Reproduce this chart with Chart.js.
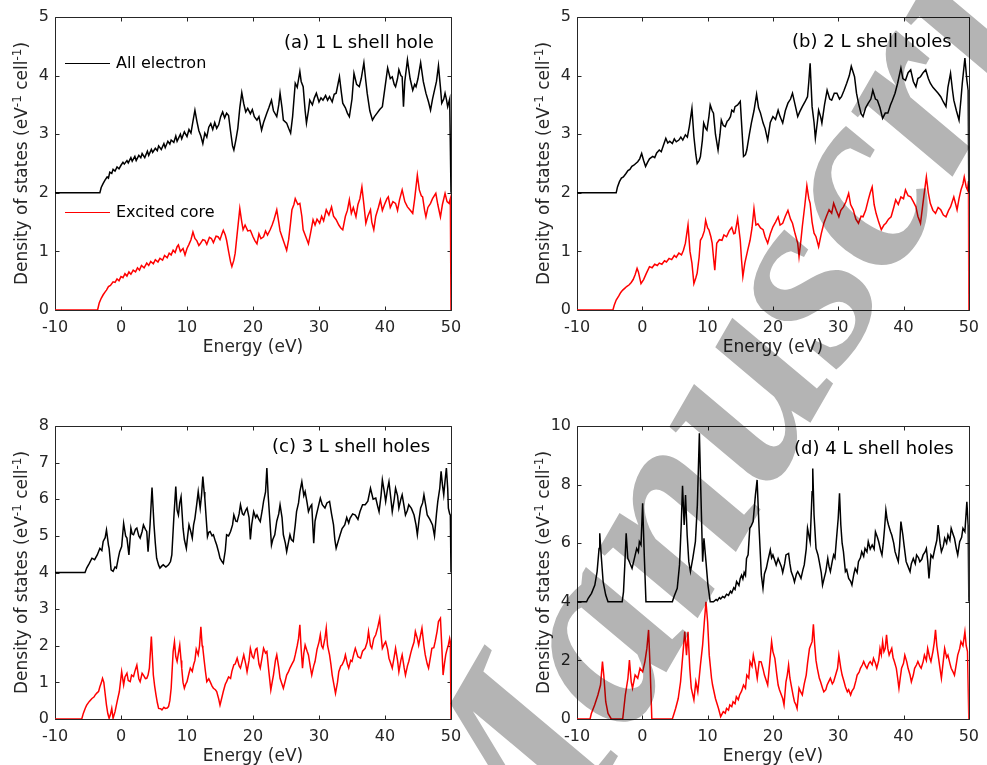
<!DOCTYPE html>
<html>
<head>
<meta charset="utf-8">
<script src="https://cdn.jsdelivr.net/npm/chart.js@4.4.1/dist/chart.umd.min.js"></script>
<style>
  html, body { margin: 0; padding: 0; background: #ffffff; }
  #fig { position: relative; width: 987px; height: 765px; overflow: hidden; background: #ffffff; }
  #fig canvas { position: absolute; }
  #wm { position: absolute; left: 0; top: 0; mix-blend-mode: multiply; pointer-events: none; }
</style>
</head>
<body>
<div id="fig">
  <canvas id="pa" width="490" height="380" style="left:0;top:0"></canvas>
  <canvas id="pb" width="497" height="380" style="left:490px;top:0"></canvas>
  <canvas id="pc" width="490" height="375" style="left:0;top:390px"></canvas>
  <canvas id="pd" width="497" height="375" style="left:490px;top:390px"></canvas>
  <svg id="wm" width="987" height="765">
    <text x="513" y="938" transform="rotate(-60 513 938)" font-family="Liberation Serif" font-style="italic" font-weight="bold" font-size="262" fill="#b4b4b4">Manuscript</text>
  </svg>
</div>
<script>
// Energy axis (eV) and tick values
const energyTicks = [-10, 0, 10, 20, 30, 40, 50];
const seriesNames = ['All electron', 'Excited core'];
const panelTitles = ['(a) 1 L shell hole', '(b) 2 L shell holes', '(c) 3 L shell holes', '(d) 4 L shell holes'];
const xTitle = 'Energy (eV)';

// Density of states, [energy, DOS] pairs. "All" curves carry their vertical offset.
const dosA_all = [[-10,2],[-3.2,2],[-3.0,2.09],[-2.7,2.16],[-2.4,2.22],[-2.1,2.27],[-1.9,2.25],[-1.7,2.35],[-1.4,2.33],[-1.2,2.4],[-0.9,2.37],[-0.6,2.44],[-0.3,2.41],[0,2.47],[0.3,2.52],[0.5,2.49],[0.9,2.55],[1.1,2.51],[1.5,2.6],[1.7,2.54],[2.1,2.62],[2.3,2.55],[2.7,2.64],[3.0,2.6],[3.2,2.67],[3.6,2.6],[4.0,2.71],[4.2,2.64],[4.6,2.74],[4.8,2.69],[5.2,2.76],[5.5,2.72],[5.7,2.8],[6.1,2.74],[6.5,2.84],[6.7,2.77],[7.1,2.88],[7.4,2.83],[7.6,2.9],[8.0,2.86],[8.3,2.97],[8.5,2.88],[9.0,3.0],[9.2,2.92],[9.6,3.04],[10,2.96],[10.3,3.08],[10.6,3.02],[10.9,3.22],[11.2,3.41],[11.5,3.22],[11.8,3.06],[12.1,2.97],[12.4,2.84],[12.7,3.02],[13.0,2.95],[13.3,3.12],[13.6,3.18],[13.9,3.08],[14.2,3.2],[14.5,3.1],[14.8,3.16],[15.1,3.3],[15.4,3.38],[15.7,3.28],[16.0,3.36],[16.3,3.32],[16.6,3.05],[16.9,2.8],[17.1,2.73],[17.4,2.9],[17.7,3.1],[18.0,3.45],[18.3,3.71],[18.6,3.52],[18.9,3.38],[19.2,3.44],[19.6,3.35],[19.9,3.42],[20.2,3.3],[20.6,3.24],[20.9,3.3],[21.3,3.07],[21.6,3.2],[22.1,3.36],[22.4,3.45],[22.8,3.58],[23.1,3.4],[23.6,3.3],[23.9,3.5],[24.1,3.7],[24.4,3.45],[24.6,3.24],[25.1,3.19],[25.4,3.1],[25.7,3.02],[26.0,3.3],[26.4,3.87],[26.7,3.8],[27.1,4.07],[27.3,3.9],[27.6,3.81],[27.9,3.4],[28.1,3.19],[28.4,3.4],[28.6,3.58],[29.0,3.5],[29.3,3.62],[29.6,3.7],[30.0,3.55],[30.3,3.62],[30.6,3.58],[31.0,3.66],[31.3,3.58],[31.6,3.64],[32.0,3.55],[32.3,3.68],[32.6,3.7],[33.1,3.98],[33.4,3.7],[33.6,3.53],[34.0,3.45],[34.3,3.36],[34.6,3.3],[35.0,3.6],[35.3,4.04],[35.7,3.85],[36.1,3.81],[36.4,3.95],[36.8,4.22],[37.1,3.9],[37.3,3.7],[37.7,3.4],[38.1,3.24],[38.4,3.3],[38.8,3.36],[39.2,3.42],[39.6,3.47],[40.0,3.8],[40.4,4.13],[40.8,3.95],[41.1,3.98],[41.4,3.85],[41.6,3.81],[41.9,3.95],[42.1,4.1],[42.4,4.0],[42.6,3.98],[42.8,3.47],[43.0,3.9],[43.4,4.27],[43.8,3.95],[44.2,3.75],[44.5,3.85],[44.7,3.81],[45.0,3.95],[45.4,4.22],[45.8,3.9],[46.2,3.7],[46.6,3.55],[46.9,3.41],[47.2,3.6],[47.4,3.7],[47.8,3.9],[48.1,4.17],[48.4,3.8],[48.6,3.53],[48.9,3.6],[49.1,3.7],[49.3,3.6],[49.5,3.47],[49.8,3.6],[50,2]];
const dosA_core = [[-10,0],[-3.55,0],[-3.3,0.12],[-3.0,0.2],[-2.7,0.26],[-2.4,0.31],[-2.2,0.34],[-1.9,0.4],[-1.6,0.42],[-1.2,0.48],[-0.9,0.47],[-0.6,0.53],[-0.3,0.5],[0,0.57],[0.3,0.55],[0.6,0.62],[0.9,0.58],[1.2,0.65],[1.5,0.61],[1.85,0.68],[2.2,0.65],[2.5,0.72],[2.8,0.68],[3.1,0.76],[3.5,0.72],[3.9,0.8],[4.2,0.76],[4.5,0.83],[4.9,0.79],[5.2,0.86],[5.6,0.82],[5.9,0.88],[6.3,0.85],[6.6,0.93],[7.0,0.89],[7.3,0.97],[7.6,0.94],[7.9,1.02],[8.2,0.98],[8.5,1.08],[8.7,1.11],[9.0,1.0],[9.4,1.05],[9.7,0.94],[10.0,1.05],[10.3,1.12],[10.6,1.2],[10.9,1.33],[11.2,1.22],[11.5,1.18],[11.8,1.1],[12.0,1.13],[12.4,1.2],[12.7,1.19],[13.0,1.12],[13.4,1.24],[13.7,1.22],[14.0,1.15],[14.4,1.26],[14.7,1.25],[15.0,1.2],[15.3,1.3],[15.5,1.36],[15.8,1.28],[16.0,1.19],[16.3,1.0],[16.6,0.82],[16.8,0.74],[17.1,0.85],[17.3,0.97],[17.6,1.3],[18.0,1.73],[18.3,1.5],[18.5,1.37],[18.8,1.45],[19.2,1.35],[19.6,1.36],[20.0,1.25],[20.3,1.18],[20.6,1.13],[20.9,1.3],[21.2,1.22],[21.6,1.25],[21.9,1.35],[22.2,1.28],[22.6,1.37],[22.9,1.45],[23.2,1.55],[23.6,1.71],[23.9,1.5],[24.1,1.35],[24.4,1.25],[24.7,1.15],[25.1,1.02],[25.4,1.2],[25.7,1.5],[25.9,1.71],[26.2,1.8],[26.4,1.9],[26.8,1.8],[27.1,1.82],[27.4,1.6],[27.6,1.37],[28.0,1.25],[28.4,1.13],[28.7,1.3],[29.1,1.54],[29.4,1.45],[29.7,1.55],[30.1,1.48],[30.4,1.6],[30.7,1.52],[31.1,1.71],[31.5,1.62],[31.9,1.76],[32.2,1.6],[32.6,1.54],[33.0,1.45],[33.3,1.4],[33.6,1.37],[34.0,1.6],[34.3,1.7],[34.6,1.88],[34.9,1.65],[35.2,1.75],[35.6,1.59],[35.9,1.8],[36.2,1.9],[36.5,2.1],[36.8,1.8],[37.1,1.48],[37.4,1.6],[37.8,1.71],[38.0,1.5],[38.3,1.37],[38.6,1.6],[39.0,1.75],[39.3,1.88],[39.6,1.7],[40.0,1.82],[40.3,1.9],[40.5,1.93],[40.8,1.75],[41.2,1.85],[41.6,1.82],[41.9,1.7],[42.2,1.88],[42.6,2.05],[43.0,1.85],[43.4,1.76],[43.7,1.72],[44.2,1.65],[44.5,1.9],[44.9,2.3],[45.2,2.05],[45.5,1.95],[45.7,1.93],[46.0,1.7],[46.2,1.59],[46.5,1.75],[46.9,1.82],[47.2,1.9],[47.7,1.99],[48.0,1.8],[48.4,1.59],[48.7,1.8],[49.1,1.99],[49.4,1.85],[49.7,1.82],[49.9,1.9],[50,0]];

const dosB_all = [[-10,2],[-4.0,2],[-3.8,2.1],[-3.5,2.19],[-3.2,2.25],[-2.9,2.27],[-2.5,2.33],[-2.2,2.38],[-1.9,2.4],[-1.6,2.45],[-1.3,2.47],[-1.0,2.5],[-0.7,2.53],[-0.4,2.58],[-0.1,2.67],[0.2,2.55],[0.5,2.45],[0.8,2.52],[1.1,2.58],[1.6,2.62],[1.9,2.6],[2.2,2.68],[2.6,2.73],[2.9,2.7],[3.2,2.8],[3.6,2.93],[3.9,2.85],[4.2,2.88],[4.6,2.84],[4.9,2.92],[5.2,2.87],[5.6,2.9],[5.9,2.95],[6.2,2.9],[6.6,2.99],[6.9,2.95],[7.2,3.13],[7.6,3.44],[7.9,2.96],[8.2,2.65],[8.4,2.5],[8.7,2.55],[8.9,2.62],[9.2,2.9],[9.4,3.19],[9.7,3.1],[9.9,3.07],[10.2,3.3],[10.4,3.5],[10.7,3.4],[10.9,3.36],[11.2,3.0],[11.6,2.73],[11.9,3.0],[12.1,3.24],[12.4,3.15],[12.7,3.13],[13.0,3.22],[13.2,3.24],[13.5,3.3],[13.7,3.41],[14.0,3.38],[14.2,3.47],[14.6,3.5],[15.0,3.56],[15.3,3.0],[15.5,2.62],[15.8,2.65],[16.0,2.73],[16.4,3.0],[16.7,3.19],[17.1,3.4],[17.5,3.68],[17.8,3.45],[18.1,3.36],[18.5,3.19],[18.8,3.1],[19.2,2.9],[19.6,3.2],[20.0,3.3],[20.4,3.25],[20.8,3.41],[21.1,3.3],[21.5,3.19],[21.9,3.4],[22.3,3.53],[22.7,3.6],[23.0,3.7],[23.4,3.5],[23.8,3.3],[24.1,3.38],[24.5,3.47],[24.9,3.55],[25.3,3.64],[25.5,3.9],[25.7,4.21],[26.0,3.47],[26.3,3.2],[26.5,2.93],[26.8,3.2],[27.0,3.41],[27.3,3.3],[27.5,3.19],[27.9,3.5],[28.3,3.75],[28.7,3.6],[29.0,3.58],[29.4,3.7],[29.8,3.7],[30.2,3.6],[30.5,3.64],[30.9,3.75],[31.3,3.87],[31.7,4.0],[32.0,4.16],[32.5,3.98],[32.8,3.7],[33.1,3.53],[33.5,3.35],[33.8,3.3],[34.2,3.45],[34.6,3.53],[35.0,3.6],[35.3,3.75],[35.7,3.6],[36.0,3.58],[36.4,3.45],[36.8,3.27],[37.2,3.36],[37.6,3.36],[38.0,3.5],[38.3,3.58],[38.7,3.7],[39.1,3.87],[39.6,4.13],[39.9,3.95],[40.3,3.92],[40.7,4.05],[41.1,4.1],[41.5,3.9],[41.9,3.81],[42.2,3.95],[42.6,3.98],[43.0,4.05],[43.4,4.1],[43.8,3.95],[44.1,3.87],[44.5,3.8],[44.9,3.75],[45.3,3.7],[45.7,3.64],[46.1,3.55],[46.5,3.47],[46.8,3.8],[47.2,4.04],[47.5,3.75],[47.7,3.58],[48.1,3.4],[48.5,3.24],[48.8,3.6],[49.0,3.87],[49.4,4.3],[49.7,3.92],[49.9,3.75],[50,2]];
const dosB_core = [[-10,0],[-4.5,0],[-4.3,0.08],[-4.0,0.17],[-3.6,0.24],[-3.3,0.3],[-3.0,0.34],[-2.7,0.37],[-2.4,0.4],[-2.0,0.43],[-1.7,0.47],[-1.4,0.52],[-1.1,0.6],[-0.8,0.71],[-0.6,0.65],[-0.2,0.45],[0.2,0.52],[0.6,0.62],[1.1,0.74],[1.5,0.72],[1.9,0.78],[2.3,0.76],[2.6,0.8],[3.0,0.78],[3.4,0.84],[3.7,0.82],[4.1,0.88],[4.5,0.86],[4.9,0.93],[5.2,0.9],[5.6,0.97],[6.0,0.94],[6.3,1.02],[6.6,1.14],[7.0,1.45],[7.3,1.0],[7.6,0.8],[7.9,0.45],[8.2,0.55],[8.4,0.63],[8.7,0.9],[8.9,1.19],[9.2,1.25],[9.5,1.35],[9.7,1.53],[10.0,1.4],[10.2,1.37],[10.5,1.25],[10.7,1.14],[10.9,0.9],[11.1,0.68],[11.4,1.14],[11.8,1.2],[12.2,1.19],[12.5,1.28],[12.9,1.25],[13.3,1.35],[13.7,1.41],[14.0,1.3],[14.2,1.31],[14.6,1.56],[15.0,1.19],[15.2,0.85],[15.4,0.57],[15.7,0.8],[16.1,1.0],[16.5,1.19],[16.8,1.4],[17.1,1.73],[17.4,1.45],[17.7,1.47],[18.1,1.4],[18.5,1.37],[18.8,1.25],[19.2,1.14],[19.6,1.3],[20.0,1.42],[20.4,1.5],[20.8,1.59],[21.1,1.45],[21.5,1.48],[21.9,1.6],[22.3,1.7],[22.7,1.55],[23.0,1.48],[23.4,1.3],[23.8,1.14],[24.0,0.91],[24.3,1.2],[24.5,1.42],[24.9,1.8],[25.2,2.12],[25.5,1.9],[25.7,1.82],[26.0,1.5],[26.3,1.31],[26.6,1.25],[27.0,1.08],[27.4,1.3],[27.8,1.48],[28.2,1.6],[28.6,1.71],[29.0,1.65],[29.3,1.82],[29.7,1.7],[30.1,1.59],[30.4,1.7],[30.8,1.76],[31.2,1.85],[31.6,1.99],[31.9,1.8],[32.3,1.71],[32.7,1.55],[33.1,1.48],[33.5,1.6],[33.8,1.59],[34.2,1.7],[34.6,1.88],[34.9,2.0],[35.2,2.1],[35.5,1.8],[35.8,1.65],[36.2,1.5],[36.6,1.37],[37.0,1.45],[37.3,1.48],[37.7,1.55],[38.1,1.59],[38.5,1.75],[38.8,1.88],[39.2,1.8],[39.6,1.93],[40.0,1.9],[40.3,2.05],[40.7,1.95],[41.1,1.93],[41.5,1.85],[41.9,1.76],[42.2,1.6],[42.6,1.48],[43.1,1.93],[43.5,2.27],[43.8,2.0],[44.1,1.82],[44.5,1.7],[44.9,1.65],[45.3,1.75],[45.7,1.71],[46.1,1.62],[46.5,1.59],[46.9,1.7],[47.2,1.76],[47.7,1.93],[48.0,1.8],[48.2,1.71],[48.5,1.9],[48.8,2.05],[49.1,2.15],[49.3,2.27],[49.6,2.1],[49.8,2.05],[49.95,2.2],[50,0]];

const dosC_all = [[-10,4],[-5.45,4],[-5.2,4.12],[-4.8,4.25],[-4.4,4.39],[-4.0,4.35],[-3.6,4.48],[-3.2,4.66],[-2.9,4.6],[-2.7,4.85],[-2.4,4.95],[-2.2,5.16],[-1.9,4.75],[-1.8,4.66],[-1.5,4.07],[-1.2,4.03],[-0.9,4.15],[-0.7,4.12],[-0.4,4.4],[-0.2,4.57],[0.1,4.71],[0.4,5.34],[0.7,5.0],[0.9,4.94],[1.2,4.48],[1.5,5.21],[1.7,5.05],[1.9,5.03],[2.2,5.18],[2.4,5.21],[2.7,5.0],[2.9,4.94],[3.2,5.12],[3.4,5.3],[3.7,5.18],[3.9,5.12],[4.1,4.57],[4.4,5.3],[4.7,6.32],[5.0,5.3],[5.2,4.8],[5.4,4.39],[5.7,4.2],[5.9,4.12],[6.2,4.18],[6.4,4.21],[6.8,4.15],[7.2,4.21],[7.5,4.3],[7.7,4.48],[8.0,5.48],[8.3,6.35],[8.5,5.7],[8.7,5.57],[8.9,5.9],[9.1,6.07],[9.4,5.21],[9.6,4.9],[9.9,4.66],[10.1,5.0],[10.3,5.3],[10.6,5.1],[10.8,4.94],[11.0,5.3],[11.2,5.48],[11.5,5.9],[11.7,6.21],[12.0,5.76],[12.2,6.1],[12.4,6.62],[12.6,6.2],[12.7,6.03],[12.9,5.5],[13.1,4.98],[13.3,5.1],[13.5,5.12],[13.8,5.0],[14.0,5.03],[14.3,4.85],[14.5,4.75],[14.8,4.55],[15.0,4.39],[15.3,4.3],[15.5,4.25],[15.8,4.6],[16.0,5.03],[16.3,5.0],[16.6,5.12],[16.9,5.3],[17.1,5.57],[17.4,5.4],[17.6,5.39],[17.9,5.6],[18.1,5.85],[18.4,5.6],[18.6,5.57],[18.9,5.7],[19.1,5.76],[19.4,5.5],[19.6,4.9],[19.8,5.3],[20.1,5.66],[20.4,5.5],[20.6,5.57],[20.9,5.45],[21.1,5.39],[21.4,5.7],[21.6,5.94],[21.9,6.2],[22.1,6.85],[22.3,6.1],[22.5,5.57],[22.8,4.75],[23.0,4.9],[23.3,5.03],[23.6,5.4],[23.9,5.6],[24.1,5.85],[24.4,5.5],[24.6,5.03],[24.9,4.8],[25.1,4.57],[25.4,4.85],[25.6,5.03],[25.8,4.9],[26.1,4.85],[26.4,5.3],[26.6,5.66],[26.9,5.9],[27.1,6.2],[27.4,6.48],[27.7,6.1],[27.9,6.21],[28.2,5.9],[28.4,5.66],[28.7,5.8],[28.9,5.85],[29.2,4.8],[29.4,5.4],[29.6,5.57],[29.9,5.8],[30.2,6.03],[30.5,5.85],[30.9,5.76],[31.2,5.9],[31.6,5.94],[31.9,5.6],[32.2,5.3],[32.4,4.9],[32.6,4.66],[32.9,4.85],[33.2,5.03],[33.5,5.2],[33.9,5.3],[34.2,5.5],[34.5,5.35],[34.7,5.48],[35.1,5.6],[35.5,5.57],[35.9,5.45],[36.2,5.66],[36.6,5.85],[37.0,5.85],[37.4,5.95],[37.8,6.3],[38.2,6.0],[38.6,6.03],[38.9,5.8],[39.1,5.66],[39.4,6.1],[39.6,6.53],[39.9,6.2],[40.1,5.94],[40.4,6.3],[40.6,6.48],[40.9,6.0],[41.1,5.66],[41.4,6.0],[41.6,6.3],[41.9,6.1],[42.1,5.76],[42.4,6.0],[42.6,6.12],[42.9,5.8],[43.1,5.57],[43.4,5.7],[43.6,5.85],[44.0,5.75],[44.4,5.57],[44.7,5.3],[44.9,5.03],[45.2,5.5],[45.4,5.76],[45.7,5.9],[45.9,6.12],[46.2,5.8],[46.4,5.57],[46.8,5.45],[47.2,5.3],[47.5,5.0],[47.8,5.6],[48.0,5.94],[48.3,6.3],[48.5,6.76],[48.7,6.4],[48.9,6.12],[49.1,6.5],[49.3,6.85],[49.5,6.3],[49.6,5.76],[49.8,5.6],[49.9,5.57],[50,4]];
const dosC_core = [[-10,0],[-5.95,0],[-5.7,0.16],[-5.4,0.3],[-5.2,0.38],[-4.8,0.48],[-4.4,0.56],[-4.1,0.6],[-3.9,0.66],[-3.6,0.72],[-3.4,0.75],[-3.2,0.88],[-3.0,0.98],[-2.8,1.11],[-2.6,1.0],[-2.5,0.84],[-2.2,0.38],[-2.0,0.15],[-1.8,0.02],[-1.6,0.12],[-1.4,0.29],[-1.2,0.02],[-0.9,0.2],[-0.7,0.38],[-0.5,0.55],[-0.25,0.75],[0.1,1.29],[0.4,0.93],[0.6,1.15],[0.9,1.25],[1.1,1.05],[1.4,1.02],[1.6,1.2],[1.9,1.16],[2.1,1.3],[2.4,1.47],[2.7,1.1],[2.9,1.02],[3.2,1.25],[3.4,1.2],[3.7,1.1],[3.9,1.11],[4.1,1.2],[4.3,1.39],[4.6,2.25],[4.9,1.2],[5.1,0.9],[5.3,0.66],[5.5,0.45],[5.7,0.29],[6.0,0.28],[6.2,0.25],[6.5,0.32],[6.7,0.29],[7.0,0.3],[7.2,0.34],[7.4,0.5],[7.6,0.84],[7.9,1.84],[8.1,2.11],[8.3,1.7],[8.5,1.57],[8.7,1.8],[8.9,2.02],[9.1,1.6],[9.2,1.39],[9.4,1.0],[9.6,0.84],[9.8,0.95],[10.0,1.02],[10.3,1.25],[10.5,1.39],[10.8,1.3],[11.0,1.48],[11.2,1.6],[11.4,1.91],[11.7,1.75],[11.9,2.0],[12.1,2.52],[12.3,2.0],[12.4,1.93],[12.6,1.6],[12.8,1.29],[13.0,1.02],[13.3,1.1],[13.5,1.02],[13.8,0.9],[14.0,0.84],[14.3,0.8],[14.5,0.75],[14.8,0.55],[15.0,0.38],[15.3,0.6],[15.5,0.75],[15.8,0.95],[16.0,1.02],[16.3,1.15],[16.6,1.11],[16.8,1.3],[17.1,1.48],[17.3,1.5],[17.6,1.66],[17.9,1.45],[18.1,1.39],[18.4,1.6],[18.6,1.75],[18.9,1.5],[19.1,1.29],[19.4,1.6],[19.6,1.93],[19.9,1.7],[20.1,1.66],[20.4,1.9],[20.6,1.93],[20.9,1.5],[21.1,1.39],[21.4,1.7],[21.6,1.93],[21.9,1.8],[22.1,1.84],[22.4,1.3],[22.7,0.79],[22.9,1.0],[23.1,1.2],[23.4,1.6],[23.6,1.75],[23.9,1.4],[24.1,1.11],[24.4,0.95],[24.6,0.84],[24.9,1.05],[25.1,1.2],[25.4,1.3],[25.6,1.39],[25.9,1.5],[26.2,1.6],[26.4,1.75],[26.7,2.0],[26.9,2.2],[27.1,2.57],[27.3,1.9],[27.5,1.39],[27.7,1.8],[27.9,2.02],[28.2,1.85],[28.4,1.75],[28.7,1.4],[28.9,1.2],[29.2,1.45],[29.4,1.57],[29.7,1.9],[30.0,2.1],[30.2,2.3],[30.4,2.0],[30.6,1.93],[30.9,2.2],[31.1,2.48],[31.3,2.0],[31.6,1.75],[31.8,1.5],[32.0,1.2],[32.3,0.9],[32.5,0.7],[32.8,1.0],[33.0,1.29],[33.3,1.45],[33.5,1.48],[33.8,1.6],[34.0,1.75],[34.3,1.5],[34.5,1.39],[34.8,1.6],[35.0,1.57],[35.3,1.8],[35.5,1.93],[35.9,1.7],[36.3,1.66],[36.6,1.85],[37.0,1.93],[37.3,2.1],[37.5,2.39],[37.8,2.0],[38.0,1.93],[38.3,2.2],[38.6,2.3],[38.9,2.5],[39.2,2.75],[39.4,2.3],[39.6,1.93],[39.9,2.05],[40.1,2.11],[40.4,1.9],[40.6,1.66],[40.9,1.5],[41.1,1.39],[41.4,1.7],[41.6,1.93],[41.9,1.6],[42.1,1.29],[42.4,1.6],[42.6,1.75],[42.9,1.4],[43.1,1.2],[43.4,1.45],[43.6,1.57],[43.9,1.8],[44.1,1.93],[44.4,2.1],[44.6,2.39],[44.9,2.2],[45.1,2.02],[45.4,2.3],[45.6,2.48],[45.9,2.0],[46.1,1.75],[46.4,1.5],[46.6,1.39],[46.9,1.7],[47.1,1.93],[47.4,1.95],[47.6,2.11],[47.9,2.4],[48.1,2.66],[48.4,2.75],[48.6,2.0],[48.8,1.2],[49.0,1.5],[49.2,1.75],[49.4,1.9],[49.6,2.02],[49.8,2.2],[49.9,2.11],[50,0]];

const dosD_all = [[-10,4],[-8.54,4],[-8.28,4.12],[-7.78,4.29],[-7.27,4.57],[-6.92,5.03],[-6.62,5.82],[-6.52,6.34],[-6.26,5.48],[-6.0,4.69],[-5.6,4.23],[-5.25,4.0],[-3.08,4.0],[-2.88,4.34],[-2.68,5.26],[-2.47,6.34],[-2.22,5.48],[-1.97,5.36],[-1.57,5.14],[-1.21,5.48],[-0.86,5.82],[-0.6,5.7],[-0.45,6.05],[-0.2,5.94],[0.05,7.36],[0.3,5.6],[0.56,4.0],[4.6,4.0],[4.85,4.17],[5.35,4.46],[5.7,5.26],[5.96,6.62],[6.16,7.96],[6.41,6.62],[6.62,7.64],[6.87,6.28],[7.12,5.37],[7.37,5.03],[7.73,5.48],[8.13,6.05],[8.43,7.3],[8.74,9.75],[8.99,7.53],[9.24,5.37],[9.44,6.17],[9.75,5.37],[10.05,4.57],[10.4,4.0],[10.9,4.0],[11.3,4.08],[11.5,4.04],[11.8,4.14],[12.0,4.1],[12.3,4.18],[12.6,4.14],[12.9,4.26],[13.2,4.22],[13.5,4.36],[13.7,4.3],[14.0,4.48],[14.2,4.42],[14.44,4.69],[14.8,4.56],[15.0,4.8],[15.2,4.91],[15.4,4.78],[15.6,5.0],[15.8,4.9],[15.96,5.48],[16.2,5.6],[16.46,6.51],[16.7,6.6],[16.97,6.74],[17.32,7.64],[17.58,8.16],[17.88,6.51],[18.23,4.91],[18.48,4.46],[18.7,4.95],[19.0,5.15],[19.2,5.37],[19.6,5.77],[19.8,5.5],[20.0,5.6],[20.3,5.4],[20.5,5.26],[20.8,5.48],[21.0,5.37],[21.3,5.2],[21.5,5.0],[21.8,5.3],[22.0,5.6],[22.4,5.65],[22.6,5.3],[22.8,5.03],[23.1,4.85],[23.3,4.68],[23.6,4.95],[23.8,5.03],[24.1,4.9],[24.3,4.8],[24.6,5.1],[24.8,5.26],[25.1,5.8],[25.3,6.51],[25.7,6.05],[26.0,7.76],[26.1,8.55],[26.3,6.96],[26.6,5.82],[26.9,5.6],[27.1,5.37],[27.4,5.0],[27.6,4.57],[27.9,4.85],[28.1,5.03],[28.4,5.48],[28.6,5.2],[28.8,5.03],[29.1,5.4],[29.3,5.6],[29.5,5.5],[29.7,6.05],[30.0,6.85],[30.2,7.7],[30.4,6.62],[30.6,6.0],[30.8,5.71],[31.1,5.03],[31.3,5.1],[31.6,4.8],[31.9,4.7],[32.1,4.57],[32.4,4.95],[32.6,5.14],[32.9,5.0],[33.1,5.37],[33.4,5.5],[33.6,5.71],[33.9,5.55],[34.1,5.82],[34.4,5.7],[34.6,6.05],[34.9,5.8],[35.2,5.94],[35.5,5.8],[35.7,6.39],[36.0,6.2],[36.2,6.05],[36.5,5.75],[36.7,5.6],[36.9,6.0],[37.1,6.51],[37.3,7.13],[37.5,6.8],[37.7,6.62],[38.0,6.4],[38.2,6.28],[38.5,6.0],[38.7,5.71],[39.0,5.5],[39.2,5.37],[39.4,5.9],[39.6,6.74],[39.9,6.28],[40.1,5.9],[40.4,5.37],[40.7,5.2],[41.0,5.03],[41.2,5.3],[41.5,5.48],[41.8,5.3],[42.0,5.6],[42.3,5.5],[42.5,5.37],[42.8,5.45],[43.0,5.6],[43.3,5.7],[43.5,5.82],[43.7,5.4],[43.9,4.8],[44.2,5.6],[44.5,5.5],[44.8,5.82],[45.1,6.1],[45.3,6.62],[45.6,6.0],[45.8,5.71],[46.1,5.9],[46.3,6.17],[46.6,6.0],[46.8,6.28],[47.1,6.1],[47.3,6.51],[47.6,6.3],[47.8,6.17],[48.1,5.8],[48.3,5.6],[48.6,6.05],[48.9,6.2],[49.1,6.51],[49.4,6.39],[49.7,7.41],[49.9,6.62],[50,4]];
const dosD_core = [[-10,0],[-8.0,0],[-7.8,0.19],[-7.3,0.48],[-6.8,0.82],[-6.4,1.16],[-6.1,1.96],[-5.9,1.5],[-5.6,0.59],[-5.25,0.19],[-4.75,0],[-3.0,0],[-2.6,0.82],[-2.2,1.39],[-1.97,2.01],[-1.7,1.27],[-1.5,1.05],[-1.1,1.5],[-0.7,1.39],[-0.35,1.73],[0.05,1.61],[0.4,1.96],[0.7,2.41],[0.96,3.04],[1.2,1.73],[1.46,0],[4.6,0],[5.1,0.36],[5.5,0.7],[5.86,1.27],[6.2,2.18],[6.5,2.98],[6.77,2.18],[7.0,2.98],[7.27,1.73],[7.5,1.05],[7.9,0.65],[8.2,1.27],[8.5,0.93],[8.9,1.84],[9.24,2.53],[9.5,3.32],[9.75,4.0],[10.0,3.32],[10.25,2.18],[10.6,1.39],[10.76,1.16],[11.2,0.7],[11.67,0.36],[12.0,0.08],[12.4,0.25],[12.7,0.2],[12.9,0.36],[13.2,0.3],[13.4,0.48],[13.7,0.42],[13.9,0.59],[14.2,0.52],[14.4,0.76],[14.7,0.66],[14.9,0.82],[15.2,0.95],[15.5,1.16],[15.8,1.05],[16.0,1.5],[16.3,1.4],[16.5,1.96],[16.8,1.8],[17.0,2.18],[17.3,1.84],[17.6,1.39],[17.9,1.96],[18.2,1.95],[18.5,1.7],[18.7,1.5],[19.0,1.3],[19.2,1.16],[19.5,1.9],[19.8,2.64],[20.0,2.3],[20.3,2.07],[20.6,1.5],[20.8,1.16],[21.0,1.0],[21.3,0.82],[21.5,0.7],[21.7,0.48],[22.0,1.27],[22.2,1.5],[22.4,1.84],[22.6,1.4],[22.8,1.16],[23.1,0.8],[23.3,0.59],[23.5,0.5],[23.7,0.36],[24.0,1.05],[24.2,0.95],[24.5,0.82],[24.8,1.2],[25.1,1.5],[25.3,1.9],[25.6,2.41],[26.0,2.64],[26.2,3.23],[26.4,2.53],[26.6,2.0],[26.8,1.73],[27.1,1.4],[27.3,1.27],[27.6,1.05],[27.8,0.93],[28.1,1.0],[28.3,1.16],[28.6,1.3],[28.8,1.39],[29.1,1.2],[29.3,1.27],[29.6,1.5],[29.9,1.73],[30.1,2.18],[30.4,1.73],[30.6,1.5],[30.9,1.27],[31.1,1.1],[31.4,0.93],[31.6,1.0],[31.9,0.82],[32.1,0.95],[32.4,1.05],[32.7,1.3],[32.9,1.5],[33.2,1.6],[33.4,1.73],[33.7,1.85],[33.9,1.96],[34.2,1.8],[34.4,1.73],[34.7,1.9],[34.9,1.96],[35.2,1.85],[35.4,2.07],[35.7,1.9],[35.9,1.73],[36.2,2.0],[36.4,2.41],[36.6,2.2],[36.8,2.64],[37.0,2.3],[37.2,2.41],[37.4,2.87],[37.6,2.4],[37.8,2.18],[38.0,2.3],[38.2,2.41],[38.4,2.1],[38.6,1.96],[38.9,1.73],[39.1,1.4],[39.3,1.05],[39.5,1.4],[39.7,1.73],[40.0,1.9],[40.2,2.18],[40.5,1.95],[40.7,1.73],[41.0,1.5],[41.2,1.27],[41.5,1.5],[41.7,1.73],[42.0,1.85],[42.2,1.96],[42.5,1.8],[42.7,1.73],[43.0,1.95],[43.2,2.18],[43.5,2.0],[43.7,2.41],[44.0,2.1],[44.2,1.96],[44.5,2.3],[44.7,2.6],[44.9,3.04],[45.1,2.5],[45.3,2.18],[45.6,1.7],[45.8,1.39],[46.1,2.0],[46.3,2.41],[46.6,2.1],[46.8,2.18],[47.1,1.9],[47.3,1.73],[47.6,1.6],[47.8,1.5],[48.1,1.9],[48.3,2.18],[48.6,2.4],[48.8,2.64],[49.1,2.5],[49.4,2.98],[49.6,2.5],[49.8,2.3],[50,0]];

const AXIS = '#262626';
const FONT = '"DejaVu Sans"';
Chart.defaults.font.family = FONT;
Chart.defaults.color = AXIS;

// Frame, inward ticks, axis titles, panel label and (optionally) legend
const panelDecor = {
  id: 'panelDecor',
  beforeDatasetsDraw(chart, args, o) {
    const { ctx, chartArea: a, scales: { x, y } } = chart;
    const px = v => Math.round(v) + 0.5;
    ctx.save();
    ctx.strokeStyle = AXIS;
    ctx.lineWidth = 1;
    ctx.beginPath();
    const L = px(a.left), R = px(a.right), T = px(a.top), B = px(a.bottom);
    ctx.rect(L, T, R - L, B - T);
    const tl = 4;
    x.ticks.forEach(t => {
      const p = px(x.getPixelForValue(t.value));
      ctx.moveTo(p, B); ctx.lineTo(p, B - tl);
      ctx.moveTo(p, T); ctx.lineTo(p, T + tl);
    });
    y.ticks.forEach(t => {
      const p = px(y.getPixelForValue(t.value));
      ctx.moveTo(L, p); ctx.lineTo(L + tl, p);
      ctx.moveTo(R, p); ctx.lineTo(R - tl, p);
    });
    ctx.stroke();
    ctx.restore();
  },
  afterDraw(chart, args, o) {
    const { ctx, chartArea: a } = chart;
    ctx.save();
    ctx.fillStyle = AXIS;
    // x title
    ctx.font = '17px ' + FONT;
    ctx.textAlign = 'center';
    ctx.textBaseline = 'middle';
    ctx.fillText(xTitle, (a.left + a.right) / 2, a.bottom + 38);
    // y title with superscripts
    const parts = [['Density of states (eV', 17, 0], ['-1', 12, -6], [' cell', 17, 0], ['-1', 12, -6], [')', 17, 0]];
    let total = 0;
    const widths = parts.map(([t, s]) => { ctx.font = s + 'px ' + FONT; const w = ctx.measureText(t).width; total += w; return w; });
    ctx.translate(a.left - 34, (a.top + a.bottom) / 2);
    ctx.rotate(-Math.PI / 2);
    ctx.textAlign = 'left';
    ctx.textBaseline = 'alphabetic';
    let cx = -total / 2;
    parts.forEach(([t, s, dy], i) => {
      ctx.font = s + 'px ' + FONT;
      ctx.fillText(t, cx, 6 + dy);
      cx += widths[i];
    });
    ctx.restore();

    ctx.save();
    ctx.fillStyle = '#000000';
    ctx.font = '18px ' + FONT;
    ctx.textAlign = 'center';
    ctx.textBaseline = 'middle';
    ctx.fillText(o.title, a.right + o.titleDx, a.top + o.titleDy);
    if (o.legend) {
      ctx.font = '16px ' + FONT;
      ctx.textAlign = 'left';
      o.legend.forEach(item => {
        ctx.strokeStyle = item.color;
        ctx.lineWidth = 1;
        ctx.beginPath();
        ctx.moveTo(item.x0, item.y + 0.5);
        ctx.lineTo(item.x1, item.y + 0.5);
        ctx.stroke();
        ctx.fillStyle = '#000000';
        ctx.fillText(item.label, item.x1 + 6, item.y + 1);
      });
    }
    ctx.restore();
  }
};

function makePanel(id, allData, coreData, yMax, yStep, box, deco) {
  const canvas = document.getElementById(id);
  const W = canvas.width, H = canvas.height;
  return new Chart(canvas, {
    type: 'line',
    data: {
      datasets: [
        { label: seriesNames[0], data: allData.map(([e, d]) => ({ x: e, y: d })), borderColor: '#000000', borderWidth: 1.5, pointRadius: 0, tension: 0, fill: false },
        { label: seriesNames[1], data: coreData.map(([e, d]) => ({ x: e, y: d })), borderColor: '#ff0000', borderWidth: 1.5, pointRadius: 0, tension: 0, fill: false }
      ]
    },
    options: {
      responsive: false,
      animation: false,
      devicePixelRatio: 1,
      layout: { padding: { top: box.top, right: W - box.right, left: 0, bottom: 0 } },
      plugins: { legend: { display: false }, tooltip: { enabled: false }, panelDecor: deco },
      scales: {
        x: {
          type: 'linear', min: energyTicks[0], max: energyTicks[energyTicks.length - 1],
          afterBuildTicks: s => { s.ticks = energyTicks.map(v => ({ value: v })); },
          grid: { display: false, drawTicks: false }, border: { display: false },
          ticks: { font: { size: 16 }, color: AXIS, padding: 8, maxRotation: 0, autoSkip: false },
          afterFit: s => { s.height = H - box.bottom; }
        },
        y: {
          type: 'linear', min: 0, max: yMax,
          ticks: { stepSize: yStep, font: { size: 16 }, color: AXIS, padding: 6 },
          grid: { display: false, drawTicks: false }, border: { display: false },
          afterFit: s => { s.width = box.left; }
        }
      }
    },
    plugins: [panelDecor]
  });
}

makePanel('pa', dosA_all, dosA_core, 5, 1, { left: 55, top: 17, right: 451, bottom: 310 },
  { title: panelTitles[0], titleDx: -92, titleDy: 26,
    legend: [ { label: seriesNames[0], color: '#000000', x0: 65, x1: 110, y: 63 },
              { label: seriesNames[1], color: '#ff0000', x0: 65, x1: 110, y: 212 } ] });
makePanel('pb', dosB_all, dosB_core, 5, 1, { left: 87, top: 17, right: 483, bottom: 310 },
  { title: panelTitles[1], titleDx: -97, titleDy: 25 });
makePanel('pc', dosC_all, dosC_core, 8, 1, { left: 55, top: 36, right: 451, bottom: 329 },
  { title: panelTitles[2], titleDx: -100, titleDy: 21 });
makePanel('pd', dosD_all, dosD_core, 10, 2, { left: 87, top: 36, right: 483, bottom: 329 },
  { title: panelTitles[3], titleDx: -95, titleDy: 23 });
</script>
</body>
</html>
